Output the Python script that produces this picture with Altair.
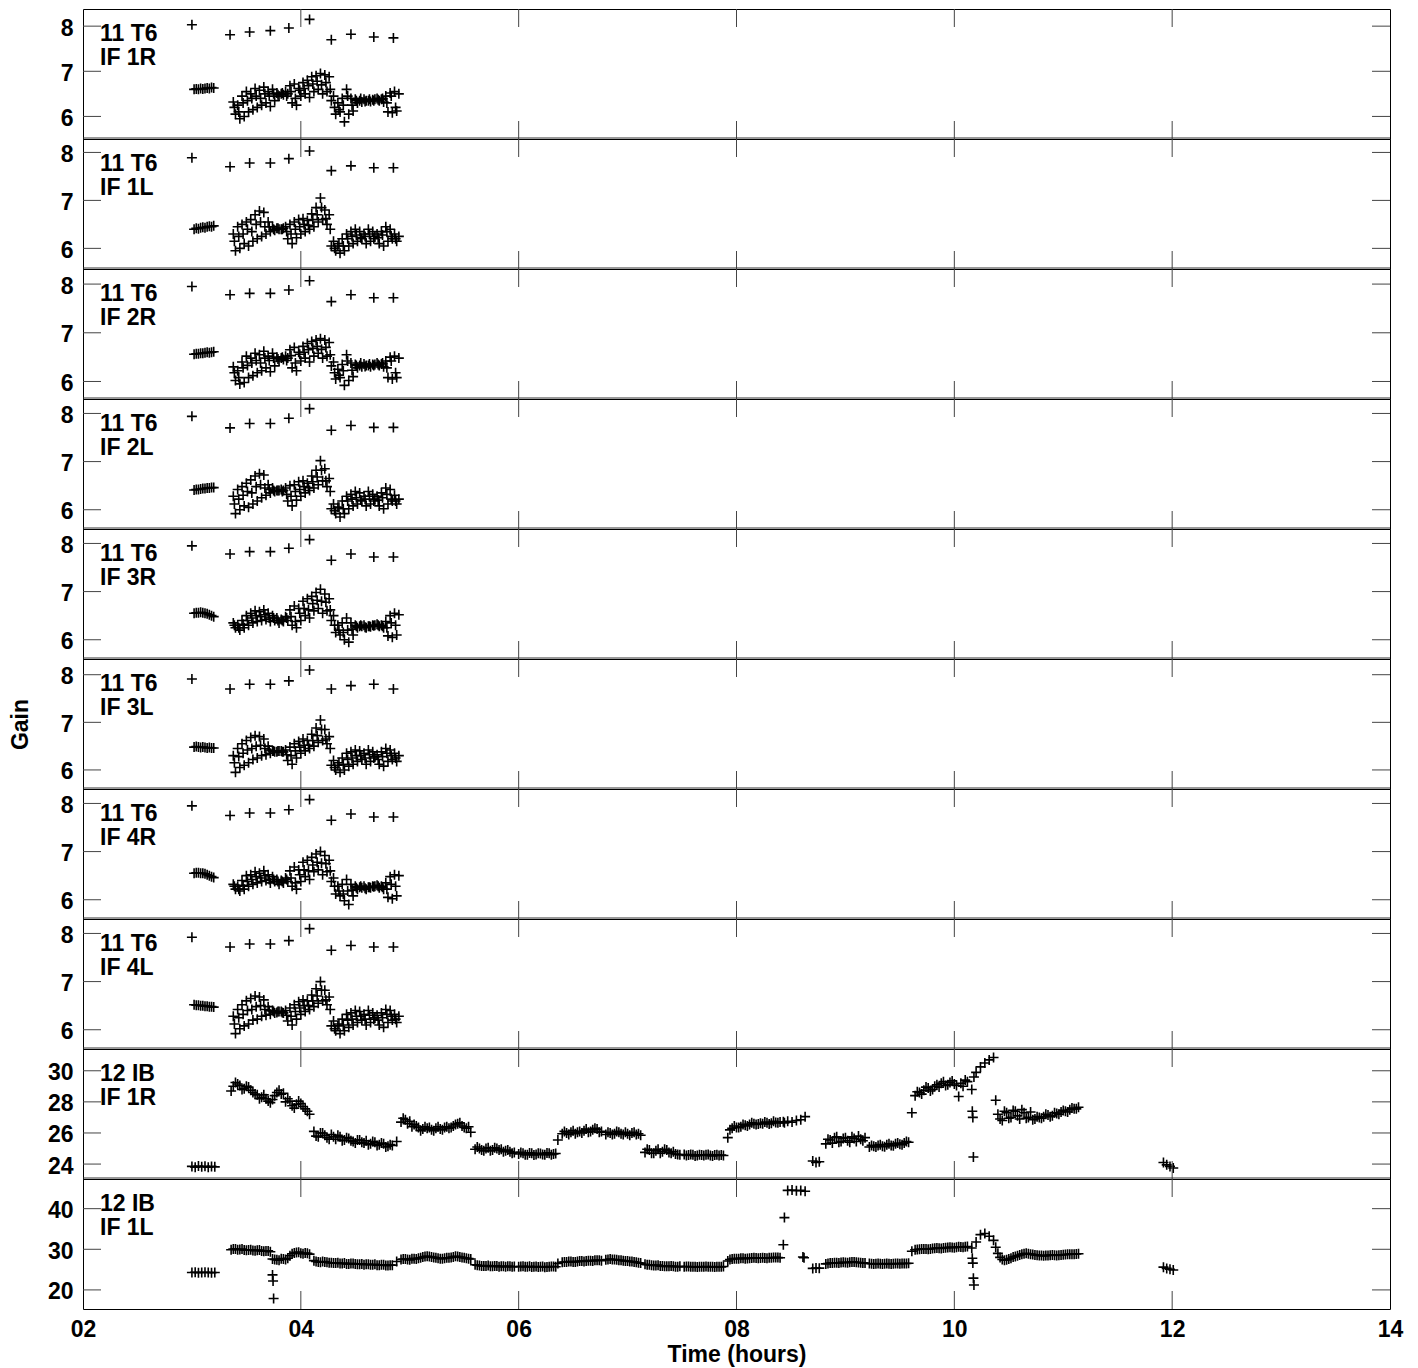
import altair as alt
import pandas as pd

FONT = "Liberation Sans"
FS = 23
W = 1307
H = 130
CROSS = "M-1,0L1,0M0,-1L0,1"

# ---------------- shared time stamps, antenna 11 (T6) ----------------
t6_out_t = [3.00, 3.35, 3.53, 3.72, 3.89, 4.08, 4.28, 4.46, 4.67, 4.85]
t6_clu_t = [3.02, 3.04, 3.06, 3.08, 3.10, 3.12, 3.14, 3.16, 3.18, 3.20]
t6_a_t = [3.38, 3.42, 3.46, 3.50, 3.54, 3.58, 3.62, 3.66, 3.70, 3.74,
          3.78, 3.82, 3.86, 3.90, 3.94, 3.98, 4.02, 4.06, 4.10, 4.14,
          4.18, 4.22, 4.26, 4.30, 4.34, 4.38, 4.42, 4.46, 4.50, 4.54,
          4.58, 4.62, 4.66, 4.70, 4.74, 4.78, 4.82, 4.86, 4.90]
t6_b_t = [3.40, 3.44, 3.48, 3.52, 3.56, 3.60, 3.64, 3.68, 3.72, 3.76,
          3.80, 3.84, 3.88, 3.92, 3.96, 4.00, 4.04, 4.08, 4.12, 4.16,
          4.20, 4.24, 4.28, 4.32, 4.36, 4.40, 4.44, 4.48, 4.52, 4.56,
          4.60, 4.64, 4.68, 4.72, 4.76, 4.80, 4.84, 4.88]
t6_c_t = [3.39, 3.43, 3.47, 3.51, 3.55, 3.59, 3.63, 3.67, 3.71, 3.75,
          3.79, 3.83, 3.87, 3.91, 3.95, 3.99, 4.03, 4.07, 4.11, 4.15,
          4.19, 4.23, 4.27, 4.31, 4.35, 4.39, 4.43, 4.47, 4.51, 4.55,
          4.59, 4.63, 4.67, 4.71, 4.75, 4.79, 4.83, 4.87]

# IF 1R
p1_out = [8.03, 7.81, 7.87, 7.90, 7.96, 8.15, 7.70, 7.82, 7.76, 7.74]
p1_clu = [6.60, 6.61, 6.60, 6.62, 6.61, 6.62, 6.63, 6.62, 6.64, 6.63]
p1_a = [6.32, 6.25, 6.45, 6.55, 6.50, 6.62, 6.58, 6.65, 6.55, 6.60, 6.52, 6.50, 6.55, 6.68, 6.72, 6.62, 6.75, 6.80, 6.88, 6.90,
        6.95, 6.92, 6.88, 6.45, 6.30, 6.40, 6.60, 6.40, 6.38, 6.35, 6.38, 6.35, 6.37, 6.40, 6.38, 6.45, 6.52, 6.55, 6.50]
p1_b = [6.05, 5.95, 6.00, 6.10, 6.15, 6.20, 6.25, 6.30, 6.22, 6.35, 6.45, 6.48, 6.50, 6.30, 6.25, 6.45, 6.50, 6.42, 6.55, 6.60,
        6.50, 6.55, 6.35, 6.05, 6.10, 5.88, 6.05, 6.12, 6.30, 6.32, 6.35, 6.33, 6.38, 6.35, 6.32, 6.10, 6.08, 6.12]
p1_c = [6.20, 6.10, 6.30, 6.35, 6.40, 6.45, 6.40, 6.50, 6.45, 6.50, 6.48, 6.52, 6.45, 6.55, 6.40, 6.58, 6.62, 6.68, 6.72, 6.78,
        6.70, 6.75, 6.60, 6.20, 6.15, 6.25, 6.45, 6.25, 6.35, 6.40, 6.33, 6.38, 6.35, 6.37, 6.40, 6.30, 6.45, 6.20]
# IF 1L
p2_out = [7.89, 7.70, 7.78, 7.78, 7.87, 8.03, 7.62, 7.72, 7.68, 7.68]
p2_clu = [6.40, 6.42, 6.41, 6.43, 6.44, 6.43, 6.45, 6.46, 6.45, 6.47]
p2_a = [6.30, 6.45, 6.50, 6.55, 6.60, 6.70, 6.78, 6.75, 6.55, 6.45, 6.42, 6.40, 6.45, 6.50, 6.55, 6.60, 6.62, 6.58, 6.72, 6.85,
        7.05, 6.80, 6.70, 6.15, 6.05, 6.20, 6.30, 6.35, 6.40, 6.35, 6.30, 6.40, 6.35, 6.30, 6.35, 6.45, 6.40, 6.30, 6.25]
p2_b = [5.95, 6.00, 6.10, 6.05, 6.15, 6.20, 6.25, 6.30, 6.35, 6.38, 6.40, 6.42, 6.20, 6.10, 6.22, 6.30, 6.35, 6.40, 6.45, 6.55,
        6.60, 6.50, 6.05, 5.95, 5.90, 5.95, 6.05, 6.10, 6.15, 6.20, 6.10, 6.15, 6.25, 6.10, 6.05, 6.15, 6.20, 6.15]
p2_c = [6.15, 6.25, 6.30, 6.40, 6.35, 6.50, 6.55, 6.45, 6.45, 6.40, 6.42, 6.40, 6.35, 6.30, 6.40, 6.45, 6.50, 6.48, 6.60, 6.70,
        6.85, 6.62, 6.40, 6.00, 6.10, 6.05, 6.20, 6.25, 6.28, 6.22, 6.25, 6.30, 6.20, 6.22, 6.28, 6.35, 6.25, 6.20]
# IF 2R
p3_out = [7.95, 7.78, 7.81, 7.81, 7.88, 8.07, 7.64, 7.78, 7.72, 7.72]
p3_clu = [6.56, 6.57, 6.57, 6.58, 6.58, 6.59, 6.60, 6.59, 6.60, 6.61]
p3_a = [6.30, 6.22, 6.40, 6.52, 6.48, 6.58, 6.55, 6.62, 6.52, 6.58, 6.50, 6.48, 6.52, 6.65, 6.70, 6.60, 6.72, 6.78, 6.82, 6.85,
        6.88, 6.85, 6.80, 6.40, 6.25, 6.35, 6.55, 6.38, 6.35, 6.33, 6.36, 6.33, 6.35, 6.38, 6.36, 6.42, 6.50, 6.52, 6.48]
p3_b = [6.02, 5.95, 5.98, 6.08, 6.12, 6.18, 6.22, 6.28, 6.20, 6.32, 6.42, 6.45, 6.48, 6.28, 6.22, 6.42, 6.48, 6.40, 6.52, 6.58,
        6.48, 6.52, 6.32, 6.05, 6.08, 5.92, 6.02, 6.10, 6.28, 6.30, 6.33, 6.30, 6.35, 6.33, 6.30, 6.08, 6.05, 6.08]
p3_c = [6.18, 6.08, 6.28, 6.33, 6.38, 6.43, 6.38, 6.48, 6.43, 6.48, 6.46, 6.50, 6.43, 6.53, 6.38, 6.56, 6.60, 6.65, 6.68, 6.72,
        6.66, 6.70, 6.55, 6.18, 6.13, 6.22, 6.42, 6.23, 6.33, 6.38, 6.31, 6.36, 6.33, 6.35, 6.38, 6.28, 6.42, 6.18]
# IF 2L
p4_out = [7.94, 7.70, 7.79, 7.79, 7.90, 8.10, 7.65, 7.75, 7.71, 7.71]
p4_clu = [6.41, 6.42, 6.42, 6.43, 6.44, 6.44, 6.45, 6.45, 6.46, 6.46]
p4_a = [6.28, 6.42, 6.48, 6.55, 6.62, 6.70, 6.75, 6.72, 6.52, 6.45, 6.40, 6.42, 6.45, 6.50, 6.52, 6.58, 6.60, 6.55, 6.70, 6.82,
        7.02, 6.85, 6.65, 6.12, 6.05, 6.18, 6.28, 6.32, 6.38, 6.35, 6.28, 6.38, 6.32, 6.28, 6.35, 6.45, 6.42, 6.30, 6.22]
p4_b = [5.92, 6.00, 6.08, 6.05, 6.12, 6.18, 6.25, 6.30, 6.35, 6.38, 6.40, 6.40, 6.18, 6.08, 6.20, 6.28, 6.35, 6.40, 6.45, 6.52,
        6.60, 6.48, 6.02, 5.92, 5.85, 5.92, 6.02, 6.08, 6.12, 6.18, 6.08, 6.12, 6.22, 6.08, 6.02, 6.12, 6.18, 6.12]
p4_c = [6.12, 6.22, 6.30, 6.38, 6.35, 6.48, 6.52, 6.45, 6.42, 6.40, 6.40, 6.38, 6.32, 6.28, 6.38, 6.42, 6.48, 6.46, 6.58, 6.68,
        6.82, 6.60, 6.38, 5.98, 6.05, 6.02, 6.18, 6.22, 6.25, 6.20, 6.22, 6.28, 6.18, 6.20, 6.25, 6.32, 6.22, 6.18]
# IF 3R
p5_out = [7.95, 7.78, 7.83, 7.83, 7.90, 8.08, 7.65, 7.78, 7.72, 7.72]
p5_clu = [6.55, 6.56, 6.56, 6.57, 6.56, 6.55, 6.54, 6.52, 6.50, 6.48]
p5_a = [6.35, 6.30, 6.40, 6.50, 6.55, 6.60, 6.58, 6.62, 6.55, 6.50, 6.45, 6.42, 6.48, 6.62, 6.70, 6.65, 6.80, 6.85, 6.90, 6.98,
        7.05, 6.95, 6.85, 6.50, 6.30, 6.35, 6.45, 6.35, 6.30, 6.28, 6.30, 6.28, 6.30, 6.32, 6.30, 6.38, 6.50, 6.55, 6.52]
p5_b = [6.25, 6.20, 6.25, 6.30, 6.35, 6.38, 6.40, 6.42, 6.38, 6.40, 6.35, 6.38, 6.40, 6.30, 6.25, 6.40, 6.50, 6.45, 6.60, 6.65,
        6.55, 6.60, 6.40, 6.15, 6.10, 6.00, 5.95, 6.10, 6.25, 6.28, 6.25, 6.27, 6.30, 6.28, 6.25, 6.08, 6.05, 6.10]
p5_c = [6.30, 6.25, 6.32, 6.40, 6.45, 6.50, 6.48, 6.52, 6.45, 6.45, 6.40, 6.40, 6.45, 6.48, 6.38, 6.55, 6.65, 6.62, 6.75, 6.82,
        6.80, 6.78, 6.62, 6.30, 6.20, 6.15, 6.20, 6.22, 6.28, 6.30, 6.26, 6.28, 6.29, 6.30, 6.28, 6.25, 6.35, 6.30]
# IF 3L
p6_out = [7.91, 7.70, 7.80, 7.80, 7.87, 8.10, 7.70, 7.77, 7.80, 7.70]
p6_clu = [6.48, 6.49, 6.48, 6.47, 6.48, 6.47, 6.46, 6.47, 6.46, 6.46]
p6_a = [6.30, 6.45, 6.55, 6.62, 6.68, 6.72, 6.70, 6.65, 6.50, 6.40, 6.38, 6.40, 6.42, 6.48, 6.55, 6.60, 6.65, 6.62, 6.75, 6.88,
        7.05, 6.85, 6.70, 6.20, 6.10, 6.25, 6.35, 6.38, 6.42, 6.40, 6.35, 6.42, 6.38, 6.32, 6.38, 6.45, 6.42, 6.35, 6.30]
p6_b = [5.95, 6.05, 6.10, 6.15, 6.22, 6.25, 6.30, 6.32, 6.35, 6.38, 6.40, 6.38, 6.20, 6.12, 6.25, 6.35, 6.40, 6.45, 6.50, 6.58,
        6.62, 6.55, 6.10, 6.00, 5.95, 6.00, 6.08, 6.12, 6.18, 6.22, 6.12, 6.18, 6.28, 6.12, 6.08, 6.18, 6.22, 6.18]
p6_c = [6.15, 6.28, 6.35, 6.42, 6.45, 6.50, 6.52, 6.45, 6.42, 6.40, 6.40, 6.38, 6.32, 6.30, 6.40, 6.48, 6.52, 6.52, 6.62, 6.72,
        6.85, 6.65, 6.45, 6.05, 6.15, 6.12, 6.22, 6.25, 6.30, 6.30, 6.25, 6.32, 6.25, 6.22, 6.28, 6.35, 6.30, 6.25]
# IF 4R
p7_out = [7.95, 7.75, 7.80, 7.80, 7.87, 8.08, 7.65, 7.78, 7.72, 7.72]
p7_clu = [6.55, 6.56, 6.56, 6.55, 6.55, 6.54, 6.52, 6.50, 6.48, 6.46]
p7_a = [6.32, 6.28, 6.40, 6.50, 6.52, 6.58, 6.55, 6.60, 6.52, 6.48, 6.42, 6.40, 6.45, 6.60, 6.68, 6.62, 6.78, 6.82, 6.88, 6.95,
        7.00, 6.92, 6.82, 6.45, 6.28, 6.32, 6.42, 6.32, 6.28, 6.26, 6.28, 6.26, 6.28, 6.30, 6.28, 6.35, 6.48, 6.52, 6.50]
p7_b = [6.22, 6.18, 6.22, 6.28, 6.32, 6.35, 6.38, 6.40, 6.35, 6.38, 6.32, 6.35, 6.38, 6.28, 6.22, 6.38, 6.48, 6.42, 6.58, 6.62,
        6.52, 6.58, 6.38, 6.12, 6.08, 5.98, 5.90, 6.08, 6.22, 6.25, 6.22, 6.25, 6.28, 6.25, 6.22, 6.05, 6.02, 6.08]
p7_c = [6.28, 6.22, 6.30, 6.38, 6.42, 6.48, 6.45, 6.50, 6.42, 6.42, 6.38, 6.38, 6.42, 6.45, 6.35, 6.52, 6.62, 6.60, 6.72, 6.78,
        6.76, 6.75, 6.60, 6.28, 6.18, 6.12, 6.18, 6.20, 6.25, 6.28, 6.24, 6.26, 6.27, 6.28, 6.26, 6.22, 6.32, 6.28]
# IF 4L
p8_out = [7.92, 7.72, 7.78, 7.78, 7.85, 8.10, 7.65, 7.75, 7.72, 7.72]
p8_clu = [6.52, 6.51, 6.51, 6.50, 6.50, 6.49, 6.49, 6.48, 6.48, 6.47]
p8_a = [6.28, 6.42, 6.52, 6.60, 6.65, 6.70, 6.68, 6.62, 6.48, 6.40, 6.36, 6.38, 6.40, 6.45, 6.52, 6.58, 6.62, 6.60, 6.72, 6.85,
        7.00, 6.82, 6.68, 6.18, 6.08, 6.22, 6.32, 6.35, 6.40, 6.38, 6.32, 6.40, 6.35, 6.30, 6.35, 6.42, 6.40, 6.32, 6.28]
p8_b = [5.92, 6.02, 6.08, 6.12, 6.20, 6.22, 6.28, 6.30, 6.32, 6.35, 6.38, 6.35, 6.18, 6.10, 6.22, 6.32, 6.38, 6.42, 6.48, 6.55,
        6.60, 6.52, 6.08, 5.98, 5.92, 5.98, 6.05, 6.10, 6.15, 6.20, 6.10, 6.15, 6.25, 6.10, 6.05, 6.15, 6.20, 6.15]
p8_c = [6.12, 6.25, 6.32, 6.40, 6.42, 6.48, 6.50, 6.42, 6.40, 6.38, 6.38, 6.36, 6.30, 6.28, 6.38, 6.45, 6.50, 6.50, 6.60, 6.70,
        6.82, 6.62, 6.42, 6.02, 6.12, 6.10, 6.20, 6.22, 6.28, 6.28, 6.22, 6.30, 6.22, 6.20, 6.25, 6.32, 6.28, 6.22]

# ---------------- antenna 12 (IB) ----------------
ib_t = [3.00, 3.03, 3.06, 3.09, 3.12, 3.15, 3.18, 3.21,
        3.36, 3.40, 3.44, 3.48, 3.52, 3.56, 3.60, 3.64, 3.68, 3.72, 3.76, 3.80, 3.84, 3.88, 3.92, 3.96, 4.00, 4.04, 4.08,
        4.12, 4.16, 4.20, 4.24, 4.28, 4.32, 4.36, 4.40, 4.44, 4.48, 4.52, 4.56, 4.60, 4.64, 4.68, 4.72, 4.76, 4.80, 4.84,
        4.88, 4.92, 4.96, 5.00, 5.04, 5.08, 5.12, 5.16, 5.20, 5.24, 5.28, 5.32, 5.36, 5.40, 5.44, 5.48, 5.52, 5.56,
        5.60, 5.64, 5.68, 5.72, 5.76, 5.80, 5.84, 5.88, 5.92, 5.96,
        6.00, 6.04, 6.08, 6.12, 6.16, 6.20, 6.24, 6.28, 6.32, 6.36,
        6.40, 6.44, 6.48, 6.52, 6.56, 6.60, 6.64, 6.68, 6.72, 6.76,
        6.80, 6.84, 6.88, 6.92, 6.96, 7.00, 7.04, 7.08, 7.12,
        7.16, 7.20, 7.24, 7.28, 7.32, 7.36, 7.40, 7.44, 7.48,
        7.52, 7.56, 7.60, 7.64, 7.68, 7.72, 7.76, 7.80, 7.84, 7.88,
        7.92, 7.96, 8.00, 8.04, 8.08, 8.12, 8.16, 8.20, 8.24, 8.28, 8.32, 8.36, 8.40,
        8.43, 8.44, 8.47, 8.51, 8.55, 8.59, 8.63,
        8.70, 8.73, 8.76,
        8.82, 8.86, 8.90, 8.94, 8.98, 9.02, 9.06, 9.10, 9.14, 9.18,
        9.22, 9.26, 9.30, 9.34, 9.38, 9.42, 9.46, 9.50, 9.54, 9.58,
        9.61,
        9.64, 9.68, 9.72, 9.76, 9.80, 9.84, 9.88, 9.92, 9.96, 10.00, 10.04, 10.08, 10.12,
        10.16, 10.165, 10.17, 10.175, 10.18,
        10.20, 10.24, 10.28, 10.32, 10.36,
        10.38, 10.42, 10.46, 10.50, 10.54, 10.58, 10.62, 10.66, 10.70, 10.74,
        10.78, 10.82, 10.86, 10.90, 10.94, 10.98, 11.02, 11.06, 11.10, 11.14,
        11.92, 11.95, 11.98, 12.01]

ib_1r = [23.85, 23.80, 23.88, 23.82, 23.86, 23.80, 23.85, 23.82,
         28.70, 29.25, 29.05, 28.85, 28.95, 28.60, 28.45, 28.30, 28.20, 27.95, 28.40, 28.75, 28.55, 28.20, 27.75, 27.85, 27.90, 27.55, 27.20,
         26.10, 25.75, 26.00, 25.70, 25.90, 25.60, 25.75, 25.55, 25.65, 25.45, 25.55, 25.40, 25.50, 25.30, 25.40, 25.25, 25.30, 25.15, 25.20,
         25.45, 26.70, 26.85, 26.75, 26.55, 26.35, 26.25, 26.30, 26.20, 26.30, 26.25, 26.35, 26.30, 26.45, 26.60, 26.45, 26.30, 26.05,
         24.95, 25.00, 24.85, 25.05, 24.90, 25.00, 24.95, 24.85, 24.80, 24.75,
         24.65, 24.70, 24.60, 24.70, 24.62, 24.68, 24.60, 24.70, 24.65, 25.55,
         25.95, 26.00, 26.05, 25.95, 26.10, 26.15, 26.05, 26.20, 26.25, 26.10,
         25.90, 26.00, 25.95, 26.05, 25.90, 25.95, 26.00, 25.90, 25.85,
         24.75, 24.90, 24.70, 24.95, 24.80, 24.90, 24.70, 24.65, 24.60,
         24.62, 24.58, 24.60, 24.55, 24.58, 24.60, 24.55, 24.58, 24.55, 24.55,
         25.70, 26.30, 26.35, 26.40, 26.50, 26.55, 26.60, 26.58, 26.60, 26.65, 26.62, 26.68, 26.70,
         26.72, 26.65, 26.75, 26.70, 26.80, 26.85, 27.05,
         24.20, 24.10, 24.15,
         25.30, 25.55, 25.70, 25.40, 25.65, 25.50, 25.75, 25.45, 25.60, 25.70,
         25.10, 25.15, 25.20, 25.15, 25.25, 25.20, 25.30, 25.28, 25.35, 25.40,
         27.30,
         28.40, 28.60, 28.75, 28.90, 28.80, 29.10, 29.20, 29.05, 29.25, 29.15, 28.35, 29.00, 29.30,
         28.80, 27.40, 27.00, 24.45, 29.60,
         29.90, 30.25, 30.50, 30.70, 30.85,
         28.10, 26.90, 27.40, 26.95, 27.45, 27.10, 27.50, 26.95, 27.35, 26.90,
         27.00, 27.05, 27.15, 27.10, 27.25, 27.35, 27.40, 27.50, 27.55, 27.65,
         24.10, 23.95, 23.85, 23.75]

ib_1l = [24.30, 24.35, 24.25, 24.30, 24.35, 24.30, 24.25, 24.30,
         29.90, 30.10, 29.95, 29.85, 29.80, 29.70, 29.75, 29.60, 29.55, 29.40, 27.50, 27.30, 27.60, 27.80, 28.90, 29.20, 29.00, 29.10, 28.80,
         27.20, 26.90, 27.00, 26.80, 26.70, 26.60, 26.50, 26.60, 26.40, 26.50, 26.30, 26.40, 26.30, 26.20, 26.30, 26.10, 26.20, 26.00, 26.10,
         27.00, 27.50, 27.60, 27.40, 27.70, 27.80, 28.10, 28.30, 28.10, 27.90, 27.70, 27.80, 27.90, 28.10, 28.20, 28.00, 27.80, 27.60,
         26.20, 26.00, 25.90, 26.00, 25.80, 25.90, 25.80, 25.70, 25.80, 25.75,
         25.70, 25.80, 25.70, 25.65, 25.75, 25.70, 25.60, 25.70, 25.75, 26.50,
         26.80, 26.90, 27.00, 26.90, 27.10, 27.00, 27.20, 27.10, 27.30, 27.20,
         27.40, 27.60, 27.50, 27.30, 27.20, 27.10, 27.00, 26.80, 26.60,
         26.30, 26.20, 26.00, 26.10, 25.90, 25.80, 25.90, 25.70, 25.80,
         25.70, 25.75, 25.70, 25.65, 25.70, 25.75, 25.70, 25.65, 25.70, 25.75,
         27.10, 27.60, 27.70, 27.80, 27.70, 27.80, 27.90, 27.80, 27.90, 27.80, 27.90, 28.00, 27.90,
         31.10, 37.80, 44.50, 44.60, 44.40, 44.50, 44.30,
         25.30, 25.40, 25.35,
         26.40, 26.60, 26.70, 26.60, 26.80, 26.70, 26.90, 26.80, 26.70, 26.60,
         26.50, 26.40, 26.50, 26.40, 26.50, 26.40, 26.50, 26.45, 26.50, 26.55,
         29.50,
         29.90, 30.00, 30.10, 30.00, 30.20, 30.30, 30.20, 30.40, 30.50, 30.40, 30.60, 30.50, 30.70,
         30.30, 27.80, 26.60, 22.90, 21.20,
         31.80, 33.60, 33.90, 33.20, 32.20,
         30.50, 28.00, 27.30, 27.60, 28.10, 28.40, 28.80, 29.00, 28.80, 28.60,
         28.50, 28.40, 28.50, 28.60, 28.50, 28.60, 28.70, 28.80, 28.80, 28.90,
         25.60, 25.30, 25.10, 24.90]
ib_1l_extra_t = [3.74, 3.745, 3.75, 8.61, 8.62]
ib_1l_extra_v = [23.70, 22.20, 17.90, 28.10, 27.90]

# second, interleaved solution track for antenna 12
ib2_t = [3.38, 3.42, 3.46, 3.50, 3.54, 3.58, 3.62, 3.66, 3.70, 3.74, 3.78, 3.82, 3.86, 3.90, 3.94, 3.98, 4.02, 4.06,
         4.14, 4.18, 4.22, 4.26, 4.30, 4.34, 4.38, 4.42, 4.46, 4.50, 4.54, 4.58, 4.62, 4.66, 4.70, 4.74, 4.78, 4.82,
         4.94, 4.98, 5.02, 5.06, 5.10, 5.14, 5.18, 5.22, 5.26, 5.30, 5.34, 5.38, 5.42, 5.46, 5.50, 5.54,
         5.62, 5.66, 5.70, 5.74, 5.78, 5.82, 5.86, 5.90, 5.94,
         6.02, 6.06, 6.10, 6.14, 6.18, 6.22, 6.26, 6.30, 6.34,
         6.42, 6.46, 6.50, 6.54, 6.58, 6.62, 6.66, 6.70, 6.74,
         6.82, 6.86, 6.90, 6.94, 6.98, 7.02, 7.06, 7.10,
         7.18, 7.22, 7.26, 7.30, 7.34, 7.38, 7.42, 7.46,
         7.54, 7.58, 7.62, 7.66, 7.70, 7.74, 7.78, 7.82, 7.86,
         7.94, 7.98, 8.02, 8.06, 8.10, 8.14, 8.18, 8.22, 8.26, 8.30, 8.34, 8.38,
         8.84, 8.88, 8.92, 8.96, 9.00, 9.04, 9.08, 9.12, 9.16,
         9.24, 9.28, 9.32, 9.36, 9.40, 9.44, 9.48, 9.52, 9.56,
         9.66, 9.70, 9.74, 9.78, 9.82, 9.86, 9.90, 9.94, 9.98, 10.02, 10.06, 10.10,
         10.40, 10.44, 10.48, 10.52, 10.56, 10.60, 10.64, 10.68, 10.72, 10.76,
         10.80, 10.84, 10.88, 10.92, 10.96, 11.00, 11.04, 11.08, 11.12]
ib2_1r = [29.00, 29.15, 28.80, 29.00, 28.75, 28.50, 28.20, 28.45, 28.05, 28.15, 28.60, 28.50, 28.00, 28.05, 27.60, 28.05, 27.70, 27.40,
          25.80, 26.00, 25.85, 25.60, 25.75, 25.85, 25.50, 25.70, 25.50, 25.35, 25.55, 25.35, 25.25, 25.45, 25.20, 25.35, 25.10, 25.25,
          26.95, 26.60, 26.40, 26.45, 26.15, 26.40, 26.35, 26.15, 26.40, 26.20, 26.40, 26.35, 26.55, 26.65, 26.35, 26.40,
          25.10, 24.90, 25.00, 24.85, 25.05, 24.90, 24.80, 24.90, 24.70,
          24.75, 24.60, 24.72, 24.58, 24.70, 24.62, 24.72, 24.60, 24.68,
          26.10, 25.90, 26.15, 26.05, 26.00, 26.25, 26.10, 26.30, 26.05,
          26.05, 25.90, 26.10, 25.95, 26.05, 25.85, 26.05, 25.95,
          24.95, 24.70, 24.85, 24.70, 24.95, 24.75, 24.80, 24.62,
          24.55, 24.62, 24.52, 24.60, 24.55, 24.62, 24.52, 24.60, 24.58,
          26.20, 26.45, 26.35, 26.55, 26.45, 26.65, 26.55, 26.62, 26.70, 26.58, 26.75, 26.65,
          25.60, 25.35, 25.75, 25.45, 25.70, 25.40, 25.65, 25.80, 25.50,
          25.20, 25.10, 25.25, 25.12, 25.30, 25.18, 25.35, 25.25, 25.45,
          28.65, 28.50, 28.95, 28.70, 29.00, 28.95, 29.30, 29.10, 29.35, 29.05, 29.20, 29.40,
          27.20, 26.80, 27.30, 27.00, 27.40, 26.90, 27.30, 27.00, 26.85, 27.05,
          26.95, 27.20, 27.05, 27.30, 27.20, 27.45, 27.35, 27.60, 27.55]
ib2_1l = [30.05, 29.90, 30.05, 29.75, 29.90, 29.65, 29.80, 29.50, 29.60, 27.60, 27.40, 27.70, 27.50, 28.40, 29.10, 29.30, 28.90, 29.00,
          27.00, 26.80, 26.90, 26.70, 26.60, 26.70, 26.50, 26.40, 26.50, 26.40, 26.30, 26.20, 26.30, 26.20, 26.10, 26.20, 26.00, 26.10,
          27.60, 27.50, 27.70, 27.60, 27.90, 28.20, 28.20, 28.00, 27.80, 27.70, 27.90, 28.00, 28.30, 28.10, 27.90, 27.70,
          26.10, 25.90, 25.90, 25.80, 25.90, 25.70, 25.80, 25.80, 25.70,
          25.75, 25.70, 25.80, 25.70, 25.65, 25.75, 25.65, 25.75, 25.70,
          26.85, 27.00, 26.90, 27.00, 27.10, 27.10, 27.20, 27.30, 27.30,
          27.50, 27.50, 27.40, 27.30, 27.10, 27.00, 26.90, 26.70,
          26.20, 26.10, 26.00, 25.90, 25.80, 25.85, 25.80, 25.70,
          25.75, 25.70, 25.68, 25.72, 25.70, 25.68, 25.72, 25.70, 25.68,
          27.50, 27.70, 27.70, 27.80, 27.75, 27.85, 27.85, 27.85, 27.85, 27.90, 27.95, 27.95,
          26.50, 26.65, 26.70, 26.75, 26.75, 26.80, 26.85, 26.75, 26.65,
          26.45, 26.45, 26.45, 26.45, 26.45, 26.45, 26.50, 26.50, 26.50,
          29.95, 30.05, 30.05, 30.10, 30.25, 30.25, 30.30, 30.45, 30.45, 30.50, 30.55, 30.60,
          29.00, 27.50, 27.40, 27.80, 28.20, 28.60, 28.90, 28.90, 28.70, 28.55,
          28.45, 28.45, 28.55, 28.55, 28.55, 28.65, 28.75, 28.80, 28.85]

labels = ["11 T6\nIF 1R", "11 T6\nIF 1L", "11 T6\nIF 2R", "11 T6\nIF 2L",
          "11 T6\nIF 3R", "11 T6\nIF 3L", "11 T6\nIF 4R", "11 T6\nIF 4L",
          "12 IB\nIF 1R", "12 IB\nIF 1L"]
domains = [[5.50, 8.38], [5.57, 8.28], [5.64, 8.31], [5.60, 8.30], [5.60, 8.30],
           [5.60, 8.33], [5.60, 8.30], [5.60, 8.30], [23.04, 31.40], [15.3, 47.3]]
t6_ticks = [6, 7, 8]
ib_ticks = [[24, 26, 28, 30], [20, 30, 40]]
x_ticks = [2, 4, 6, 8, 10, 12, 14]
x_inner = [4, 6, 8, 10, 12]


def pairs(t, v):
    n = min(len(t), len(v))
    return list(t[:n]), list(v[:n])


def t6_frame(out, clu, a, b, c):
    t = t6_out_t + t6_clu_t + t6_a_t + t6_b_t + t6_c_t
    v = out + clu + a + b + c
    t, v = pairs(t, v)
    return pd.DataFrame({"t": t, "v": v})


def ib_frame(v1, v2, extra_t, extra_v):
    ta, va = pairs(ib_t, v1)
    tb, vb = pairs(ib2_t, v2)
    tc, vc = pairs(extra_t, extra_v)
    return pd.DataFrame({"t": ta + tb + tc, "v": va + vb + vc})


frames = [
    t6_frame(p1_out, p1_clu, p1_a, p1_b, p1_c),
    t6_frame(p2_out, p2_clu, p2_a, p2_b, p2_c),
    t6_frame(p3_out, p3_clu, p3_a, p3_b, p3_c),
    t6_frame(p4_out, p4_clu, p4_a, p4_b, p4_c),
    t6_frame(p5_out, p5_clu, p5_a, p5_b, p5_c),
    t6_frame(p6_out, p6_clu, p6_a, p6_b, p6_c),
    t6_frame(p7_out, p7_clu, p7_a, p7_b, p7_c),
    t6_frame(p8_out, p8_clu, p8_a, p8_b, p8_c),
    ib_frame(ib_1r, ib2_1r, [], []),
    ib_frame(ib_1l, ib2_1l, ib_1l_extra_t, ib_1l_extra_v),
]

TICK_COLOR = "#444"


def make_panel(i):
    df = frames[i]
    bottom = i == 9
    yt = t6_ticks if i < 8 else ib_ticks[i - 8]
    xscale = alt.Scale(domain=[2, 14], nice=False, zero=False)
    yscale = alt.Scale(domain=domains[i], nice=False, zero=False)

    if bottom:
        xaxis = alt.Axis(values=x_ticks, ticks=False, grid=False, domain=False, labelFlush=False,
                         labelExpr="datum.value < 10 ? '0' + datum.value : '' + datum.value",
                         labelFont=FONT, labelFontSize=FS, labelFontWeight="bold",
                         labelColor="black", labelPadding=9,
                         titleFont=FONT, titleFontSize=FS, titleFontWeight="bold",
                         titleColor="black", titlePadding=2)
        xenc = alt.X("t:Q", scale=xscale, title="Time (hours)", axis=xaxis)
    else:
        xenc = alt.X("t:Q", scale=xscale, axis=None)

    yaxis = alt.Axis(values=yt, ticks=False, grid=False, domain=False,
                     labelFont=FONT, labelFontSize=FS, labelFontWeight="bold",
                     labelColor="black", labelPadding=10, labelOffset=2,
                     titleFont=FONT, titleFontSize=FS, titleFontWeight="bold",
                     titleColor="black", titlePadding=28)
    if i == 5:
        yenc = alt.Y("v:Q", scale=yscale, title="Gain", axis=yaxis)
    else:
        yenc = alt.Y("v:Q", scale=yscale, title=None, axis=yaxis)

    pts = alt.Chart(df).mark_point(shape=CROSS, filled=False, color="black",
                                   size=100, strokeWidth=1.6, opacity=1).encode(x=xenc, y=yenc)

    ytk = pd.DataFrame({"v": yt})
    xtk = pd.DataFrame({"t": x_inner})
    left = alt.Chart(ytk).mark_rule(color=TICK_COLOR, strokeWidth=1).encode(
        y=yenc, x=alt.value(0), x2=alt.value(18))
    right = alt.Chart(ytk).mark_rule(color=TICK_COLOR, strokeWidth=1).encode(
        y=yenc, x=alt.value(W - 18), x2=alt.value(W))
    top = alt.Chart(xtk).mark_rule(color=TICK_COLOR, strokeWidth=1).encode(
        x=xenc, y=alt.value(0), y2=alt.value(18))
    bot = alt.Chart(xtk).mark_rule(color=TICK_COLOR, strokeWidth=1).encode(
        x=xenc, y=alt.value(H - 18), y2=alt.value(H))

    lab = alt.Chart(pd.DataFrame({"s": [labels[i]]})).mark_text(
        align="left", baseline="top", font=FONT, fontSize=FS, fontWeight="bold",
        color="black", lineBreak="\n", lineHeight=24).encode(
        x=alt.value(17), y=alt.value(14), text="s:N")

    layers = [pts, left, right, top, bot, lab]
    if not bottom:
        sep = alt.Chart(pd.DataFrame({"s": [labels[i]]})).mark_rule(
            color="#333", strokeWidth=1).encode(
            x=alt.value(0), x2=alt.value(W), y=alt.value(H - 1))
        layers.append(sep)
    return alt.layer(*layers).properties(width=W, height=H)


chart = alt.vconcat(*[make_panel(i) for i in range(10)], spacing=0, bounds="flush").properties(
    padding=0, background="white"
).configure_view(stroke="black", strokeWidth=1).configure_concat(spacing=0)

chart.save("out.html", embed_options={"renderer": "svg", "actions": False})
